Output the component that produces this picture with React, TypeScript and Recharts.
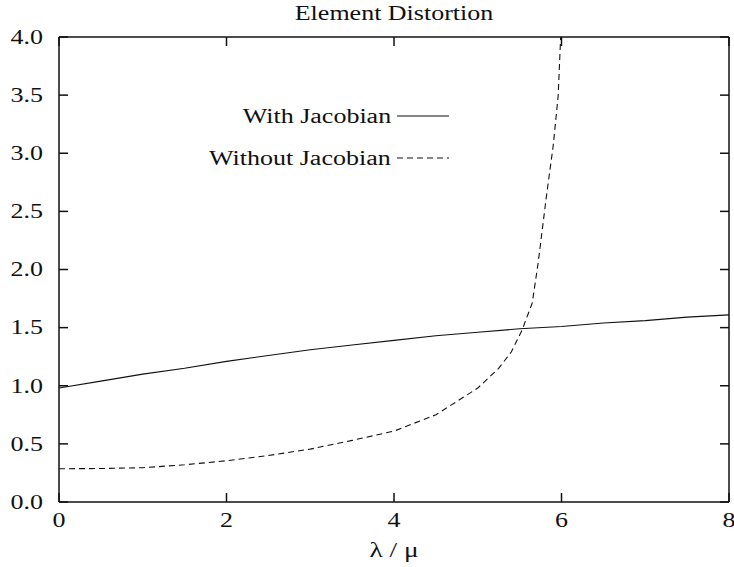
import React from 'react';
import { LineChart, Line, XAxis, YAxis, Legend, Label } from 'recharts';

const FONT = '"Liberation Serif", "Times New Roman", serif';
const INK = '#111';
// the scanned figure has wide type, so text is stretched horizontally
const STRETCH = 1.3;
const TICK_LEN = 9;

// lambda / mu positions and distortion values
const withX = [0, 0.5, 1, 1.5, 2, 2.5, 3, 3.5, 4, 4.5, 5, 5.5, 6, 6.5, 7, 7.5, 8];
const withY = [0.98, 1.04, 1.1, 1.15, 1.21, 1.26, 1.31, 1.35, 1.39, 1.43, 1.46, 1.49, 1.51, 1.54, 1.56, 1.59, 1.61];

const withoutX = [0, 0.5, 1, 1.5, 2, 2.5, 3, 3.5, 4, 4.5, 5, 5.25, 5.4, 5.53, 5.65, 5.72, 5.82, 5.9, 5.96, 5.99];
const withoutY = [0.286, 0.288, 0.295, 0.32, 0.355, 0.4, 0.455, 0.53, 0.61, 0.75, 0.98, 1.15, 1.29, 1.48, 1.71, 2.05, 2.63, 3.06, 3.49, 4.0];

const xTicks = [0, 2, 4, 6, 8];
const yTicks = [0, 0.5, 1, 1.5, 2, 2.5, 3, 3.5, 4];

const withData = withX.map((x, i) => ({ x, y: withY[i] }));
const withoutData = withoutX.map((x, i) => ({ x, y: withoutY[i] }));

function Stretched({ x, y, anchor, dy, size, children }: any) {
  return (
    <text
      transform={`translate(${x},${y}) scale(${STRETCH},1)`}
      textAnchor={anchor}
      dy={dy}
      fontFamily={FONT}
      fontSize={size}
      fill={INK}
    >
      {children}
    </text>
  );
}

// ticks point inward, so draw the mark ourselves next to the label
const BOTTOM_GAP = 12;
function BottomTick(props: any) {
  const { x, y, payload } = props;
  const axisY = y - BOTTOM_GAP;
  return (
    <g>
      <line x1={x} x2={x} y1={axisY} y2={axisY - TICK_LEN} stroke={INK} strokeWidth={1.5} />
      <Stretched x={x} y={y} anchor="middle" dy="0.66em" size={20}>
        {payload.value}
      </Stretched>
    </g>
  );
}

const LEFT_GAP = 16;
function LeftTick(props: any) {
  const { x, y, payload } = props;
  const axisX = x + LEFT_GAP;
  return (
    <g>
      <line x1={axisX} x2={axisX + TICK_LEN} y1={y} y2={y} stroke={INK} strokeWidth={1.5} />
      <Stretched x={x} y={y} anchor="end" dy="0.34em" size={20}>
        {Number(payload.value).toFixed(1)}
      </Stretched>
    </g>
  );
}

function TopTick(props: any) {
  const { x, y } = props;
  return <line x1={x} x2={x} y1={y} y2={y + TICK_LEN} stroke={INK} strokeWidth={1.5} />;
}

function RightTick(props: any) {
  const { x, y } = props;
  return <line x1={x} x2={x - TICK_LEN} y1={y} y2={y} stroke={INK} strokeWidth={1.5} />;
}

function renderTitle(props: any) {
  const vb = props.viewBox || {};
  return (
    <Stretched x={vb.x + vb.width / 2} y={vb.y + 4} anchor="middle" dy="0.8em" size={20}>
      Element Distortion
    </Stretched>
  );
}

function renderXLabel(props: any) {
  const vb = props.viewBox || {};
  return (
    <Stretched x={vb.x + vb.width / 2} y={vb.y + vb.height - 10} anchor="middle" size={21}>
      λ / μ
    </Stretched>
  );
}

function renderLegend(props: any) {
  const items = props.payload || [];
  return (
    <div style={{ fontFamily: FONT, fontSize: 20, color: INK }}>
      {items.map((entry: any, i: number) => (
        <div key={i} style={{ display: 'flex', alignItems: 'center', height: 42 }}>
          <span style={{ width: 191, textAlign: 'right', whiteSpace: 'nowrap' }}>
            <span style={{ display: 'inline-block', transform: `scaleX(${STRETCH})`, transformOrigin: 'right center' }}>
              {entry.value}
            </span>
          </span>
          <svg width={58} height={10} style={{ marginLeft: 6 }}>
            <line
              x1={0}
              y1={5}
              x2={52}
              y2={5}
              stroke={INK}
              strokeWidth={1.1}
              strokeDasharray={i === 1 ? '6 4' : undefined}
            />
          </svg>
        </div>
      ))}
    </div>
  );
}

export default function App() {
  return (
    <div style={{ position: 'absolute', left: 0, top: 0, background: '#fff' }}>
      <LineChart width={734} height={567} margin={{ top: 0, right: 0, bottom: 0, left: 0 }}>
        <XAxis
          dataKey="x"
          type="number"
          domain={[0, 8]}
          ticks={xTicks}
          allowDataOverflow
          height={65}
          stroke={INK}
          strokeWidth={1.5}
          tickLine={false}
          tickSize={0}
          tickMargin={BOTTOM_GAP}
          tick={<BottomTick />}
        >
          <Label content={renderXLabel} />
        </XAxis>
        <XAxis
          xAxisId="top"
          orientation="top"
          dataKey="x"
          type="number"
          domain={[0, 8]}
          ticks={xTicks}
          allowDataOverflow
          height={37}
          stroke={INK}
          strokeWidth={1.5}
          tickLine={false}
          tickSize={0}
          tickMargin={0}
          tick={<TopTick />}
        >
          <Label content={renderTitle} />
        </XAxis>
        <YAxis
          type="number"
          domain={[0, 4]}
          ticks={yTicks}
          allowDataOverflow
          width={59}
          stroke={INK}
          strokeWidth={1.5}
          tickLine={false}
          tickSize={0}
          tickMargin={LEFT_GAP}
          tick={<LeftTick />}
        />
        <YAxis
          yAxisId="right"
          orientation="right"
          type="number"
          domain={[0, 4]}
          ticks={yTicks}
          allowDataOverflow
          width={5}
          stroke={INK}
          strokeWidth={1.5}
          tickLine={false}
          tickSize={0}
          tickMargin={0}
          tick={<RightTick />}
        />
        <Legend
          layout="vertical"
          align="center"
          verticalAlign="middle"
          content={renderLegend}
          wrapperStyle={{ top: 95, left: 200, width: 270 }}
        />
        <Line
          data={withData}
          dataKey="y"
          name="With Jacobian"
          type="linear"
          stroke={INK}
          strokeWidth={1.1}
          dot={false}
          activeDot={false}
          isAnimationActive={false}
        />
        <Line
          data={withoutData}
          dataKey="y"
          name="Without Jacobian"
          type="linear"
          stroke={INK}
          strokeWidth={1.1}
          strokeDasharray="6 4"
          dot={false}
          activeDot={false}
          isAnimationActive={false}
        />
      </LineChart>
    </div>
  );
}
